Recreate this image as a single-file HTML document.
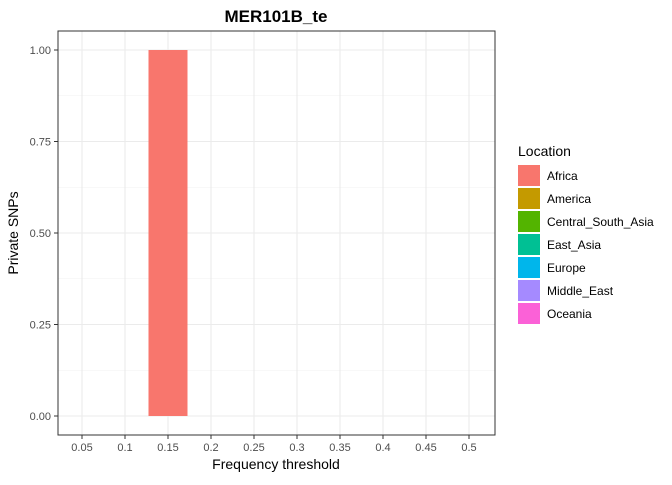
<!DOCTYPE html>
<html><head><meta charset="utf-8"><style>
body{margin:0;background:#fff;font-family:"Liberation Sans",sans-serif;}
svg text{font-family:"Liberation Sans",sans-serif;}
</style></head><body>
<svg id="chart" width="672" height="480" xmlns="http://www.w3.org/2000/svg">
<rect width="672" height="480" fill="#fff"/>
<text x="276" y="22" text-anchor="middle" font-size="17" font-weight="bold">MER101B_te</text>
<g id="grid"></g><g id="bars"></g>
<rect x="58" y="31" width="437" height="404" fill="none" stroke="#333" stroke-width="1"/>
<g id="axes"></g>
<text x="276" y="469" text-anchor="middle" font-size="14">Frequency threshold</text>
<text transform="translate(18,233) rotate(-90)" text-anchor="middle" font-size="14">Private SNPs</text>
<g id="legend"></g>
</svg>
<script>
const categories=["0.05","0.1","0.15","0.2","0.25","0.3","0.35","0.4","0.45","0.5"];
const seriesLocations=["Africa","America","Central_South_Asia","East_Asia","Europe","Middle_East","Oceania"];
const seriesColors=["#F8766D","#C49A00","#53B400","#00C094","#00B6EB","#A58AFF","#FB61D7"];
const africaValues=[0,0,1,0,0,0,0,0,0,0];
const yTicks=[0,0.25,0.5,0.75,1];
const yTickLabels=["0.00","0.25","0.50","0.75","1.00"];
const NS="http://www.w3.org/2000/svg";
const x=i=>82+i*43, y=v=>416-v*366;
function mk(t,a,p){const e=document.createElementNS(NS,t);for(const k in a)e.setAttribute(k,a[k]);p.appendChild(e);return e;}
const g=document.getElementById('grid'),b=document.getElementById('bars'),ax=document.getElementById('axes'),lg=document.getElementById('legend');
for(let i=0;i<yTicks.length;i++){
  if(i<yTicks.length-1){const l=mk('line',{x1:58,x2:495,y1:(y(yTicks[i])+y(yTicks[i+1]))/2,y2:(y(yTicks[i])+y(yTicks[i+1]))/2,stroke:'#f0f0f0','stroke-width':0.6},g);}
  const l=mk('line',{x1:58,x2:495,y1:y(yTicks[i]),y2:y(yTicks[i]),stroke:'#ebebeb','stroke-width':1.1},g);
  
  mk('line',{x1:54,x2:58,y1:y(yTicks[i]),y2:y(yTicks[i]),stroke:'#333'},ax);
  const t=mk('text',{x:51,y:y(yTicks[i])+4,'text-anchor':'end','font-size':11,fill:'#4d4d4d'},ax);t.textContent=yTickLabels[i];
  
}
categories.forEach((c,i)=>{
  const l=mk('line',{x1:x(i),x2:x(i),y1:31,y2:435,stroke:'#ebebeb','stroke-width':1.1},g);
  
  mk('line',{x1:x(i),x2:x(i),y1:435,y2:439,stroke:'#333'},ax);
  const t=mk('text',{x:x(i),y:451,'text-anchor':'middle','font-size':11,fill:'#4d4d4d'},ax);t.textContent=c;
  
  if(africaValues[i]>0){const r=mk('rect',{x:x(i)-19.5,width:39,y:y(africaValues[i]),height:y(0)-y(africaValues[i]),fill:seriesColors[0]},b);
  }
});
const lt=mk('text',{x:518,y:156,'font-size':14},lg);lt.textContent='Location';

seriesLocations.forEach((s,i)=>{
  const r=mk('rect',{x:518,y:165+i*23,width:22,height:21,fill:seriesColors[i]},lg);
  
  const t=mk('text',{x:547,y:180+i*23,'font-size':12},lg);t.textContent=s;
  
});
</script>
</body></html>
